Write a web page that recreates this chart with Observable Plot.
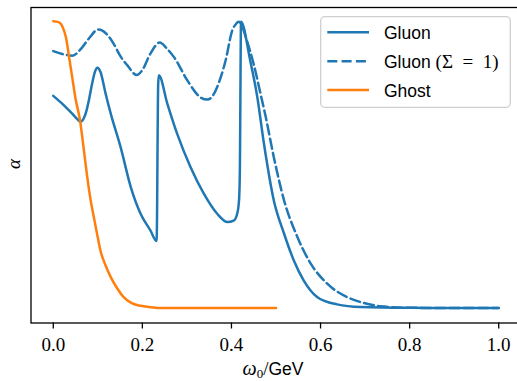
<!DOCTYPE html>
<html><head><meta charset="utf-8">
<script src="https://cdn.jsdelivr.net/npm/d3@7"></script>
<script src="https://cdn.jsdelivr.net/npm/@observablehq/plot@0.6"></script>
<style>
html,body{margin:0;padding:0;overflow:hidden;background:#fff;}
g[aria-label^="x-axis"] line, g[aria-label^="x-axis"] path { stroke-width: 1.3px; }
</style></head><body><div id="chart"></div>
<script>
// ---- data ----
const seriesNames = ["Gluon", "Gluon (Σ = 1)", "Ghost"];
const xTicks = [0, 0.2, 0.4, 0.6, 0.8, 1.0];
const xTickLabels = ["0.0", "0.2", "0.4", "0.6", "0.8", "1.0"];

const gluonX = [0, 0.024, 0.043, 0.055, 0.061, 0.068, 0.074, 0.080, 0.0875, 0.094, 0.099, 0.106, 0.1174, 0.129, 0.151, 0.174, 0.196, 0.218, 0.232, 0.2355, 0.237, 0.256, 0.278, 0.308, 0.338, 0.368, 0.391, 0.405, 0.413, 0.417, 0.419, 0.420, 0.4215, 0.442, 0.458, 0.473, 0.495, 0.518, 0.540, 0.562, 0.593, 0.637, 0.690, 0.800, 0.900, 1.000];
const gluonY = [0.74, 0.707, 0.677, 0.657, 0.649, 0.66, 0.685, 0.725, 0.785, 0.826, 0.838, 0.823, 0.748, 0.678, 0.562, 0.422, 0.329, 0.271, 0.234, 0.78, 0.812, 0.713, 0.608, 0.492, 0.399, 0.329, 0.300, 0.305, 0.33, 0.376, 0.492, 0.724, 0.998, 0.864, 0.736, 0.573, 0.376, 0.260, 0.166, 0.097, 0.038, 0.013, 0.0035, 0.0008, 0.0003, 0.0];

const sigmaX = [0, 0.02, 0.043, 0.06, 0.08, 0.1005, 0.12, 0.135, 0.15, 0.166, 0.187, 0.20, 0.218, 0.239, 0.255, 0.271, 0.301, 0.331, 0.346, 0.36, 0.368, 0.387, 0.402, 0.41, 0.416, 0.422, 0.432, 0.450, 0.465, 0.477, 0.495, 0.518, 0.548, 0.578, 0.615, 0.660, 0.690, 0.735, 0.795, 0.900, 1.000];
const sigmaY = [0.896, 0.886, 0.880, 0.90, 0.94, 0.971, 0.955, 0.923, 0.88, 0.847, 0.813, 0.83, 0.887, 0.926, 0.905, 0.875, 0.794, 0.734, 0.727, 0.745, 0.771, 0.864, 0.969, 0.99, 0.998, 0.99, 0.945, 0.85, 0.749, 0.666, 0.527, 0.376, 0.248, 0.155, 0.085, 0.038, 0.021, 0.006, 0.001, 0.0003, 0.0];

const ghostX = [0, 0.012, 0.021, 0.029, 0.036, 0.043, 0.050, 0.060, 0.068, 0.076, 0.084, 0.092, 0.100, 0.106, 0.117, 0.129, 0.143, 0.158, 0.175, 0.196, 0.22, 0.241, 0.5];
const ghostY = [1.0, 0.997, 0.98, 0.94, 0.87, 0.80, 0.73, 0.655, 0.56, 0.46, 0.375, 0.31, 0.245, 0.20, 0.15, 0.108, 0.07, 0.038, 0.018, 0.008, 0.003, 0.0, 0.0];

// ---- tables ----
const rows = (name, xs, ys) => xs.map((x, i) => ({series: name, x, y: ys[i]}));
const gluonRows = rows(seriesNames[0], gluonX, gluonY);
const sigmaRows = rows(seriesNames[1], sigmaX, sigmaY);
const ghostRows = rows(seriesNames[2], ghostX, ghostY);

const blue = "#1f77b4", orange = "#ff7f0e";
const lw = 2.5, dash = "10,4.3";
const sansFont = "'Liberation Sans', Arial, sans-serif";
const serifFont = "'Liberation Serif', 'Times New Roman', serif";

const plot = Plot.plot({
  width: 521, height: 381,
  marginLeft: 30.5, marginRight: 0.5, marginTop: 7, marginBottom: 58.5,
  style: {fontFamily: serifFont, fontSize: "19px", background: "white", maxWidth: "none", overflow: "visible", color: "black"},
  x: {domain: [-0.05, 1.05], ticks: xTicks, tickFormat: d => xTickLabels[xTicks.indexOf(d)], tickSize: 6, tickPadding: 8.5, label: null},
  y: {domain: [-0.052, 1.048], axis: null},
  marks: [
    Plot.line(gluonRows, {x: "x", y: "y", stroke: blue, strokeWidth: lw, curve: "monotone-x"}),
    Plot.line(sigmaRows, {x: "x", y: "y", stroke: blue, strokeWidth: lw, strokeDasharray: dash, curve: "monotone-x"}),
    Plot.line(ghostRows, {x: "x", y: "y", stroke: orange, strokeWidth: lw, curve: "monotone-x"}),
    Plot.frame({stroke: "black", strokeWidth: 1.3})
  ]
});
document.getElementById("chart").appendChild(plot);

const svg = d3.select(plot);

// axis labels
const xl = svg.append("text").attr("x", 273).attr("y", 375).attr("text-anchor", "middle").attr("fill", "black");
xl.append("tspan").attr("font-family", serifFont).attr("font-style", "italic").attr("font-size", 20).text("ω");
xl.append("tspan").attr("font-family", serifFont).attr("font-size", 13).attr("dy", 3).text("0");
xl.append("tspan").attr("font-family", serifFont).attr("font-size", 19).attr("dy", -3).text("/");
xl.append("tspan").attr("font-family", sansFont).attr("font-size", 17.5).text("GeV");

svg.append("text").attr("transform", "translate(20,164) rotate(-90)").attr("text-anchor", "middle")
  .attr("font-family", serifFont).attr("font-style", "italic").attr("font-size", 19).attr("fill", "black").text("α");

// legend
const legendStyles = [
  {stroke: blue, dash: null},
  {stroke: blue, dash: dash},
  {stroke: orange, dash: null}
];
const lg = svg.append("g");
lg.append("rect").attr("x", 320.7).attr("y", 16.7).attr("width", 189.6).attr("height", 90.6).attr("rx", 4)
  .attr("fill", "white").attr("fill-opacity", 0.8).attr("stroke", "#cfcfcf").attr("stroke-width", 1.3);
seriesNames.forEach((name, i) => {
  const yy = 32.3 + i * 28.85;
  lg.append("line").attr("x1", 327.3).attr("x2", 369).attr("y1", yy).attr("y2", yy)
    .attr("stroke", legendStyles[i].stroke).attr("stroke-width", lw)
    .attr("stroke-dasharray", legendStyles[i].dash);
  const t = lg.append("text").attr("x", 384).attr("y", yy).attr("dy", "0.36em").attr("fill", "black").attr("text-anchor", "start");
  const k = name.indexOf(" (");
  if (k < 0) {
    t.append("tspan").attr("font-family", sansFont).attr("font-size", 17.5).text(name);
  } else {
    t.append("tspan").attr("font-family", sansFont).attr("font-size", 17.5).text(name.slice(0, k) + " ");
    t.append("tspan").attr("font-family", serifFont).attr("font-size", 19).text(name.slice(k + 1).replace(" = ", "\u2002=\u2002"));
  }
});
</script>
</body></html>
